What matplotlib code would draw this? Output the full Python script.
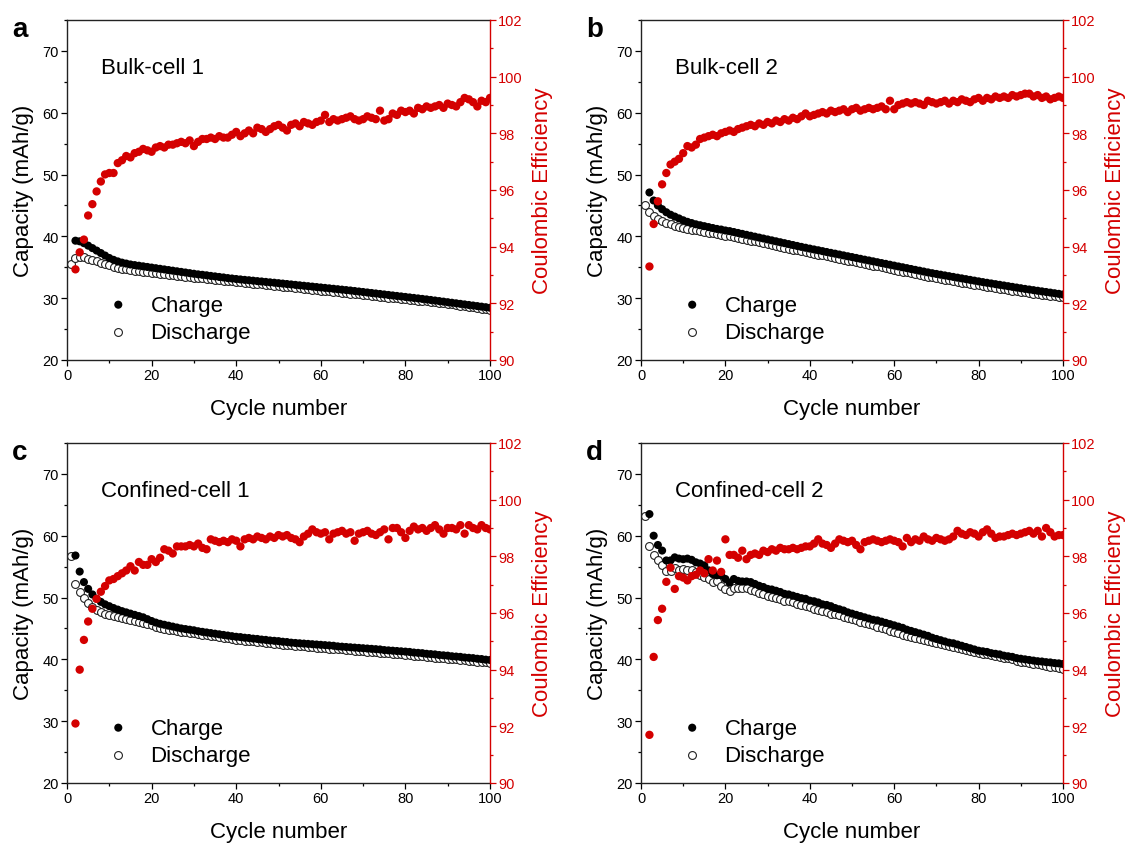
import numpy as np
import matplotlib
matplotlib.use("Agg")
import matplotlib.pyplot as plt
from matplotlib.ticker import MultipleLocator

plt.rcParams['font.family'] = ['Liberation Sans', 'DejaVu Sans']

RED = '#d40000'

# ---- cycle numbers: discharge starts at cycle 1, charge / CE at cycle 2 ----
cycles_dis = np.arange(1, 101)
cycles_chg = np.arange(2, 101)

# ---- Bulk-cell 1 ----
bulk1_charge = [
    39.3, 39.2, 38.9, 38.5, 38.1, 37.7, 37.3, 36.9, 36.5, 36.2,
    35.95, 35.75, 35.6, 35.45, 35.35, 35.25, 35.15, 35.05, 34.95, 34.85,
    34.75, 34.65, 34.55, 34.45, 34.35, 34.25, 34.15, 34.05, 33.95, 33.85,
    33.78, 33.7, 33.6, 33.52, 33.43, 33.35, 33.25, 33.18, 33.1, 33.03,
    32.96, 32.9, 32.83, 32.76, 32.7, 32.63, 32.56, 32.5, 32.43, 32.36,
    32.29, 32.22, 32.15, 32.08, 32.01, 31.94, 31.87, 31.8, 31.73, 31.66,
    31.59, 31.52, 31.45, 31.38, 31.31, 31.24, 31.16, 31.08, 31.0, 30.92,
    30.84, 30.76, 30.68, 30.6, 30.52, 30.44, 30.36, 30.28, 30.2, 30.12,
    30.04, 29.96, 29.88, 29.8, 29.71, 29.62, 29.53, 29.44, 29.35, 29.26,
    29.17, 29.08, 28.99, 28.9, 28.81, 28.72, 28.63, 28.54, 28.45]
bulk1_discharge = [
    35.5, 36.5, 36.7, 36.6, 36.4, 36.2, 35.95, 35.7, 35.5, 35.3,
    35.1, 34.95, 34.8, 34.68, 34.56, 34.46, 34.37, 34.28, 34.2, 34.12,
    34.04, 33.96, 33.88, 33.8, 33.72, 33.64, 33.56, 33.48, 33.41, 33.34,
    33.27, 33.2, 33.13, 33.06, 32.99, 32.92, 32.85, 32.78, 32.71, 32.64,
    32.57, 32.5, 32.43, 32.36, 32.29, 32.22, 32.15, 32.08, 32.01, 31.94,
    31.87, 31.8, 31.73, 31.66, 31.59, 31.52, 31.45, 31.38, 31.31, 31.24,
    31.17, 31.1, 31.03, 30.96, 30.89, 30.82, 30.75, 30.68, 30.6, 30.53,
    30.46, 30.39, 30.32, 30.25, 30.18, 30.11, 30.04, 29.97, 29.9, 29.83,
    29.76, 29.69, 29.62, 29.55, 29.47, 29.39, 29.31, 29.23, 29.15, 29.07,
    28.98, 28.89, 28.8, 28.71, 28.62, 28.52, 28.42, 28.32, 28.22, 28.12]
bulk1_ce = [
    93.2, 93.8, 94.25, 95.1, 95.5, 95.95, 96.3, 96.55, 96.6, 96.6,
    96.95, 97.05, 97.2, 97.15, 97.3, 97.35, 97.45, 97.4, 97.35, 97.5,
    97.55, 97.5, 97.6, 97.6, 97.65, 97.7, 97.65, 97.75, 97.55, 97.7,
    97.8, 97.8, 97.85, 97.8, 97.9, 97.85, 97.85, 97.95, 98.05, 97.9,
    98.0, 98.1, 98.0, 98.2, 98.15, 98.05, 98.15, 98.25, 98.3, 98.2,
    98.1, 98.3, 98.35, 98.25, 98.4, 98.35, 98.3, 98.4, 98.45, 98.65,
    98.4, 98.5, 98.45, 98.5, 98.55, 98.6, 98.5, 98.45, 98.5, 98.6,
    98.55, 98.5, 98.8, 98.45, 98.5, 98.7, 98.65, 98.8, 98.75, 98.8,
    98.7, 98.9, 98.85, 98.95, 98.9, 98.95, 99.0, 98.9, 99.05, 99.0,
    98.95, 99.1, 99.25, 99.2, 99.1, 98.95, 99.15, 99.1, 99.25]

# ---- Bulk-cell 2 ----
bulk2_charge = [
    47.1, 45.8, 45.0, 44.4, 43.9, 43.5, 43.2, 42.9, 42.6, 42.35,
    42.15, 41.95, 41.8, 41.65, 41.5, 41.35, 41.2, 41.1, 40.95, 40.85,
    40.7, 40.55, 40.4, 40.25, 40.1, 39.95, 39.8, 39.65, 39.5, 39.35,
    39.2, 39.05, 38.9, 38.75, 38.6, 38.45, 38.3, 38.16, 38.02, 37.88,
    37.75, 37.61, 37.47, 37.33, 37.2, 37.06, 36.92, 36.78, 36.65, 36.51,
    36.37, 36.23, 36.1, 35.96, 35.82, 35.68, 35.55, 35.41, 35.27, 35.13,
    35.0, 34.86, 34.72, 34.58, 34.45, 34.31, 34.17, 34.04, 33.92, 33.8,
    33.68, 33.56, 33.44, 33.32, 33.2, 33.08, 32.96, 32.84, 32.72, 32.6,
    32.49, 32.38, 32.27, 32.16, 32.05, 31.94, 31.83, 31.72, 31.61, 31.5,
    31.4, 31.3, 31.2, 31.1, 31.0, 30.9, 30.8, 30.7, 30.6]
bulk2_discharge = [
    45.1, 44.0, 43.3, 42.85, 42.5, 42.2, 41.95, 41.75, 41.55, 41.4,
    41.25, 41.1, 40.97, 40.84, 40.72, 40.6, 40.48, 40.36, 40.25, 40.13,
    40.01, 39.9, 39.76, 39.61, 39.47, 39.32, 39.18, 39.03, 38.89, 38.74,
    38.6, 38.45, 38.31, 38.16, 38.02, 37.87, 37.73, 37.6, 37.46, 37.33,
    37.19, 37.05, 36.91, 36.78, 36.64, 36.5, 36.37, 36.23, 36.09, 35.95,
    35.82, 35.68, 35.54, 35.4, 35.27, 35.13, 34.99, 34.85, 34.72, 34.58,
    34.44, 34.31, 34.17, 34.03, 33.89, 33.76, 33.62, 33.48, 33.35, 33.22,
    33.1, 32.99, 32.87, 32.76, 32.64, 32.53, 32.41, 32.3, 32.18, 32.07,
    31.96, 31.85, 31.74, 31.63, 31.52, 31.42, 31.32, 31.22, 31.12, 31.02,
    30.93, 30.84, 30.75, 30.66, 30.57, 30.48, 30.39, 30.3, 30.21, 30.12]
bulk2_ce = [
    93.3, 94.8, 95.6, 96.2, 96.6, 96.9, 97.0, 97.1, 97.3, 97.55,
    97.5, 97.6, 97.8, 97.85, 97.9, 97.95, 97.9, 98.0, 98.05, 98.1,
    98.05, 98.15, 98.2, 98.25, 98.3, 98.25, 98.35, 98.3, 98.4, 98.35,
    98.45, 98.4, 98.5, 98.45, 98.55, 98.5, 98.6, 98.7, 98.6, 98.65,
    98.7, 98.75, 98.7, 98.8, 98.75, 98.8, 98.85, 98.75, 98.85, 98.9,
    98.8, 98.85, 98.9, 98.85, 98.9, 98.95, 98.85, 99.15, 98.85, 99.0,
    99.05, 99.1, 99.05, 99.1, 99.05, 99.0, 99.15, 99.1, 99.05, 99.1,
    99.15, 99.05, 99.15, 99.1, 99.2, 99.15, 99.1, 99.2, 99.25, 99.15,
    99.25, 99.2, 99.3, 99.25, 99.3, 99.25, 99.35, 99.3, 99.35, 99.4,
    99.4, 99.3, 99.35, 99.25, 99.3, 99.2, 99.25, 99.3, 99.25]

# ---- Confined-cell 1 ----
conf1_charge = [
    56.8, 54.2, 52.5, 51.4, 50.5, 49.8, 49.3, 48.9, 48.6, 48.3,
    48.05, 47.8, 47.6, 47.4, 47.2, 47.0, 46.8, 46.5, 46.2, 45.95,
    45.75, 45.6, 45.45, 45.3, 45.15, 45.0, 44.9, 44.8, 44.7, 44.55,
    44.45, 44.35, 44.25, 44.15, 44.05, 43.95, 43.85, 43.75, 43.65, 43.6,
    43.5, 43.45, 43.35, 43.3, 43.2, 43.15, 43.05, 43.0, 42.95, 42.85,
    42.8, 42.7, 42.65, 42.6, 42.55, 42.5, 42.45, 42.4, 42.35, 42.3,
    42.25, 42.2, 42.1, 42.05, 42.0, 41.95, 41.9, 41.85, 41.8, 41.75,
    41.7, 41.65, 41.6, 41.5, 41.45, 41.4, 41.35, 41.3, 41.25, 41.2,
    41.1, 41.05, 41.0, 40.9, 40.85, 40.8, 40.7, 40.65, 40.6, 40.5,
    40.45, 40.4, 40.3, 40.25, 40.2, 40.1, 40.05, 39.95, 39.9]
conf1_discharge = [
    56.8, 52.2, 50.9, 49.9, 49.1, 48.5, 48.05, 47.7, 47.4, 47.2,
    47.0, 46.8, 46.65, 46.5, 46.35, 46.2, 46.05, 45.9, 45.7, 45.5,
    45.3, 45.1, 44.95, 44.8, 44.7, 44.6, 44.5, 44.4, 44.3, 44.2,
    44.1, 44.0, 43.9, 43.8, 43.7, 43.6, 43.5, 43.4, 43.3, 43.2,
    43.1, 43.05, 42.95, 42.9, 42.8, 42.75, 42.7, 42.6, 42.55, 42.5,
    42.4, 42.35, 42.3, 42.2, 42.15, 42.1, 42.0, 41.95, 41.9, 41.85,
    41.8, 41.75, 41.7, 41.65, 41.6, 41.5, 41.45, 41.4, 41.35, 41.3,
    41.25, 41.2, 41.15, 41.1, 41.0, 40.95, 40.9, 40.85, 40.8, 40.75,
    40.7, 40.6, 40.55, 40.5, 40.45, 40.4, 40.3, 40.25, 40.2, 40.1,
    40.05, 40.0, 39.95, 39.85, 39.8, 39.75, 39.65, 39.6, 39.5, 39.45]
conf1_ce = [
    92.1, 94.0, 95.05, 95.7, 96.15, 96.5, 96.75, 96.95, 97.15, 97.2,
    97.3, 97.4, 97.5, 97.65, 97.5, 97.8, 97.7, 97.7, 97.9, 97.8,
    97.95, 98.25, 98.2, 98.1, 98.35, 98.35, 98.35, 98.4, 98.35, 98.45,
    98.3, 98.25, 98.6, 98.55, 98.5, 98.55, 98.5, 98.6, 98.55, 98.35,
    98.6, 98.65, 98.6, 98.7, 98.65, 98.6, 98.7, 98.65, 98.75, 98.7,
    98.75, 98.65, 98.6, 98.5, 98.7, 98.8, 98.95, 98.85, 98.8, 98.85,
    98.6, 98.8, 98.85, 98.9, 98.8, 98.85, 98.55, 98.8, 98.85, 98.9,
    98.8, 98.75, 98.85, 98.95, 98.6, 99.0, 99.0, 98.85, 98.65, 98.9,
    99.05, 98.95, 99.0, 98.9, 99.0, 99.1, 98.95, 98.8, 99.0, 99.0,
    98.95, 99.1, 98.8, 99.1, 99.0, 98.95, 99.1, 99.0, 98.95]

# ---- Confined-cell 2 ----
conf2_charge = [
    63.5, 60.0, 58.5, 57.6, 56.0, 56.0, 56.5, 56.3, 56.2, 56.3,
    56.1, 55.7, 55.5, 55.2, 54.4, 53.8, 53.6, 53.6, 53.0, 52.4,
    53.0, 52.7, 52.6, 52.6, 52.5, 52.2, 51.9, 51.7, 51.4, 51.3,
    51.1, 50.9, 50.6, 50.5, 50.3, 50.1, 49.9, 49.8, 49.5, 49.4,
    49.2, 48.9, 48.8, 48.6, 48.3, 48.1, 47.9, 47.6, 47.4, 47.2,
    47.0, 46.8, 46.6, 46.4, 46.3, 46.1, 45.9, 45.7, 45.5, 45.3,
    45.1, 44.8, 44.6, 44.4, 44.2, 44.0, 43.8, 43.5, 43.3, 43.1,
    42.9, 42.7, 42.6, 42.4, 42.2, 42.0, 41.8, 41.6, 41.4, 41.3,
    41.2, 41.0, 40.9, 40.8, 40.6, 40.5, 40.4, 40.2, 40.1, 40.0,
    39.9, 39.8, 39.7, 39.65, 39.55, 39.5, 39.4, 39.35, 39.25]
conf2_discharge = [
    63.15, 58.4, 56.9, 56.0, 55.2, 54.35, 54.35, 54.7, 54.5, 54.6,
    54.5, 54.4, 54.1, 53.7, 53.3, 53.0, 52.5, 52.7, 51.9, 51.4,
    51.0, 51.5, 51.6, 51.6, 51.5, 51.3, 51.0, 50.8, 50.5, 50.3,
    50.1, 49.9, 49.7, 49.5, 49.4, 49.2, 49.0, 48.8, 48.6, 48.4,
    48.2, 48.0, 47.8, 47.6, 47.4, 47.3, 47.1, 46.9, 46.7, 46.5,
    46.3, 46.1, 45.9, 45.7, 45.5, 45.3, 45.1, 44.9, 44.6, 44.4,
    44.2, 44.0, 43.8, 43.6, 43.4, 43.3, 43.1, 42.9, 42.8, 42.65,
    42.5, 42.3, 42.1, 42.0, 41.8, 41.7, 41.5, 41.4, 41.2, 41.1,
    40.9, 40.8, 40.7, 40.5, 40.4, 40.3, 40.2, 40.0, 39.8, 39.6,
    39.5, 39.4, 39.3, 39.2, 39.1, 38.9, 38.8, 38.7, 38.6, 38.45]
conf2_ce = [
    91.7, 94.45, 95.75, 96.15, 97.1, 97.6, 96.85, 97.3, 97.25, 97.15,
    97.3, 97.35, 97.5, 97.4, 97.9, 97.5, 97.85, 97.45, 98.6, 98.05,
    98.05, 97.95, 98.2, 97.9, 98.05, 98.1, 98.05, 98.2, 98.15, 98.25,
    98.2, 98.3, 98.25, 98.25, 98.3, 98.25, 98.3, 98.35, 98.35, 98.45,
    98.6, 98.45, 98.4, 98.3, 98.45, 98.6, 98.55, 98.5, 98.55, 98.4,
    98.25, 98.5, 98.55, 98.6, 98.55, 98.5, 98.55, 98.6, 98.55, 98.5,
    98.35, 98.65, 98.5, 98.6, 98.55, 98.7, 98.6, 98.55, 98.65, 98.6,
    98.55, 98.6, 98.7, 98.9, 98.8, 98.75, 98.85, 98.8, 98.7, 98.85,
    98.95, 98.8, 98.65, 98.7, 98.7, 98.75, 98.8, 98.75, 98.8, 98.85,
    98.9, 98.8, 98.9, 98.7, 99.0, 98.85, 98.7, 98.75, 98.75]

panels = [
    ('a', 'Bulk-cell 1', bulk1_charge, bulk1_discharge, bulk1_ce),
    ('b', 'Bulk-cell 2', bulk2_charge, bulk2_discharge, bulk2_ce),
    ('c', 'Confined-cell 1', conf1_charge, conf1_discharge, conf1_ce),
    ('d', 'Confined-cell 2', conf2_charge, conf2_discharge, conf2_ce),
]

W, H = 1127, 845
fig = plt.figure(figsize=(W / 100, H / 100), dpi=100)

# axes boxes in pixels: (left, right, top, bottom)
boxes = [(67, 490, 21, 361), (641, 1063, 21, 361),
         (67, 490, 444, 784), (641, 1063, 444, 784)]

for (letter, title, chg, dis, ce), (l, r, t, b) in zip(panels, boxes):
    ax = fig.add_axes([l / W, 1 - b / H, (r - l) / W, (b - t) / H])
    ax2 = ax.twinx()

    ax.scatter(cycles_chg, chg, s=34, color='black', edgecolors='none',
               label='Charge', zorder=3)
    ax.scatter(cycles_dis, dis, s=32, facecolors='white', edgecolors='#222222',
               linewidths=0.8, label='Discharge', zorder=2)
    ax2.scatter(cycles_chg, ce, s=36, color=RED, edgecolors='none', zorder=3)

    ax.set_xlim(0, 100)
    ax.set_ylim(20, 75)
    ax2.set_ylim(90, 102)

    ax.xaxis.set_major_locator(MultipleLocator(20))
    ax.xaxis.set_minor_locator(MultipleLocator(10))
    ax.yaxis.set_major_locator(MultipleLocator(10))
    ax.yaxis.set_minor_locator(MultipleLocator(5))
    ax2.yaxis.set_major_locator(MultipleLocator(2))
    ax2.yaxis.set_minor_locator(MultipleLocator(1))

    ax.tick_params(which='major', direction='out', length=4, width=0.9,
                   labelsize=10.5, pad=2)
    ax.tick_params(which='minor', direction='out', length=2.5, width=0.9)
    ax.tick_params(axis='y', which='both', right=False)
    ax2.tick_params(which='major', direction='out', length=4, width=0.9,
                    labelsize=10.5, colors=RED, pad=2)
    ax2.tick_params(which='minor', direction='out', length=2.5, width=0.9,
                    colors=RED)

    for sp in ('left', 'bottom', 'top'):
        ax.spines[sp].set_linewidth(1.0)
        ax.spines[sp].set_color('#222222')
    ax.spines['right'].set_visible(False)
    for sp in ('left', 'bottom', 'top'):
        ax2.spines[sp].set_visible(False)
    ax2.spines['right'].set_color(RED)
    ax2.spines['right'].set_linewidth(1.0)

    ax.set_xlabel('Cycle number', fontsize=16, labelpad=11)
    ax.set_ylabel('Capacity (mAh/g)', fontsize=16, labelpad=6)
    ax2.set_ylabel('Coulombic Efficiency', fontsize=16, color=RED, labelpad=6.5)

    ax.text(0.08, 0.86, title, transform=ax.transAxes, fontsize=16,
            ha='left', va='center')

    ax.legend(loc='center left', bbox_to_anchor=(0.095, 0.122),
              frameon=False, fontsize=16, handlelength=1.0,
              handletextpad=0.95, labelspacing=0.27, borderpad=0,
              borderaxespad=0, scatterpoints=1)

    fig.text((l - 55) / W, 1 - (t + 9) / H, letter, fontsize=20,
             fontweight='bold', ha='left', va='center')

fig.savefig('out.png', dpi=100)
